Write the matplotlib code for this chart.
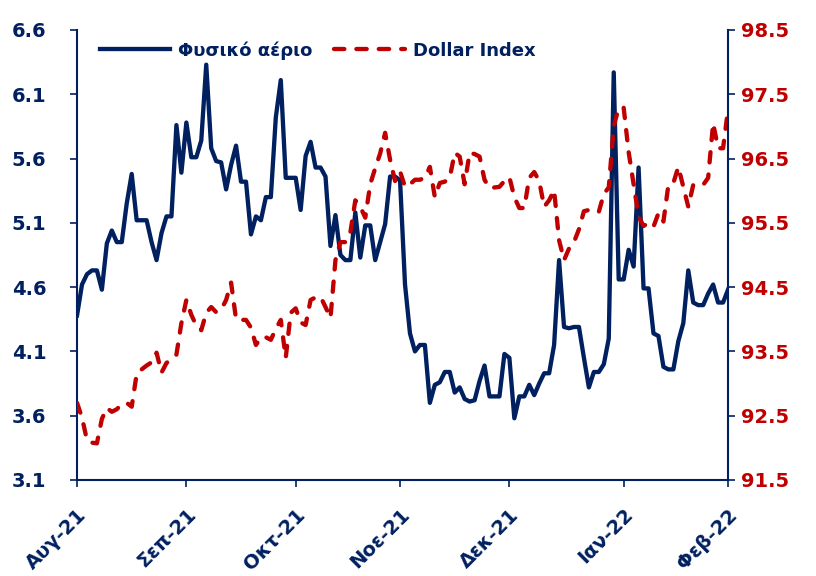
import matplotlib
matplotlib.use("Agg")
import matplotlib.pyplot as plt
import pandas as pd
import numpy as np

# business-day categories
dates = pd.bdate_range("2021-08-02", "2022-02-01")
month_labels = ["Αυγ-21", "Σεπ-21", "Οκτ-21", "Νοε-21", "Δεκ-21", "Ιαν-22", "Φεβ-22"]

gas = [4.38, 4.62, 4.70, 4.73, 4.73, 4.58, 4.94, 5.04, 4.95, 4.95,
       5.25, 5.48, 5.12, 5.12, 5.12, 4.95, 4.81, 5.02, 5.15, 5.15,
       5.86, 5.49, 5.88, 5.61, 5.61, 5.74, 6.33, 5.68, 5.58, 5.57,
       5.36, 5.55, 5.70, 5.42, 5.42, 5.01, 5.15, 5.12, 5.30, 5.30,
       5.92, 6.21, 5.45, 5.45, 5.45, 5.20, 5.62, 5.73, 5.53, 5.53,
       5.46, 4.92, 5.16, 4.85, 4.81, 4.81, 5.18, 4.83, 5.08, 5.08,
       4.81, 4.95, 5.09, 5.46, 5.46, 5.43, 4.62, 4.24, 4.10, 4.15,
       4.15, 3.70, 3.84, 3.86, 3.94, 3.94, 3.78, 3.82, 3.73, 3.71,
       3.72, 3.87, 3.99, 3.75, 3.75, 3.75, 4.08, 4.05, 3.58, 3.75,
       3.75, 3.84, 3.76, 3.85, 3.93, 3.93, 4.15, 4.81, 4.29, 4.28,
       4.29, 4.29, 4.05, 3.82, 3.94, 3.94, 4.00, 4.20, 6.27, 4.66,
       4.66, 4.89, 4.76, 5.53, 4.59, 4.59, 4.24, 4.22, 3.98, 3.96,
       3.96, 4.18, 4.32, 4.73, 4.48, 4.46, 4.46, 4.55, 4.62, 4.48,
       4.48, 4.58]

dollar = [92.70, 92.47, 92.12, 92.08, 92.07, 92.45, 92.62, 92.56, 92.60, 92.68,
          92.70, 92.64, 93.15, 93.22, 93.28, 93.33, 93.48, 93.17, 93.32, 93.38,
          93.45, 93.94, 94.30, 94.07, 93.90, 93.83, 94.10, 94.19, 94.11, 94.15,
          94.30, 94.57, 94.00, 93.99, 93.99, 93.87, 93.60, 93.72, 93.72, 93.68,
          93.85, 93.99, 93.40, 94.10, 94.17, 93.95, 93.91, 94.30, 94.34, 94.35,
          94.19, 94.02, 94.92, 95.20, 95.20, 95.35, 95.85, 95.75, 95.58, 96.10,
          96.35, 96.58, 96.90, 96.48, 96.15, 96.30, 96.06, 96.10, 96.17, 96.17,
          96.20, 96.37, 95.90, 96.12, 96.14, 96.20, 96.59, 96.53, 96.10, 96.59,
          96.57, 96.53, 96.17, 96.04, 96.05, 96.06, 96.15, 96.21, 95.90, 95.73,
          95.73, 96.20, 96.29, 96.15, 95.75, 95.85, 96.01, 95.23, 94.92, 95.10,
          95.20, 95.40, 95.68, 95.70, 95.67, 95.67, 95.95, 96.05, 97.00, 97.29,
          97.29, 96.60, 96.10, 95.60, 95.45, 95.50, 95.44, 95.65, 95.52, 96.09,
          96.12, 96.37, 96.06, 95.75, 96.09, 96.09, 96.09, 96.20, 97.05, 96.66,
          96.66, 97.27]

navy = "#002060"
red = "#C00000"
font = "DejaVu Sans"

fig = plt.figure(figsize=(8.16, 5.76), dpi=100)
ax = fig.add_axes([0.0944, 0.1667, 0.7978, 0.7813])
ax2 = ax.twinx()

x = np.arange(len(dates))
l1, = ax.plot(x, gas, color=navy, lw=3.1, solid_joinstyle="round", label="Φυσικό αέριο", zorder=3)
l2, = ax2.plot(x, dollar, color=red, lw=3.1, dashes=(2.4, 2.8), dash_capstyle="round",
               label="Dollar Index")

ax.set_xlim(0, len(dates) - 1)
ax.set_ylim(3.1, 6.6)
ax2.set_ylim(91.5, 98.5)
ax.set_yticks(np.arange(3.1, 6.61, 0.5))
ax.set_yticklabels([f"{v:.1f}" for v in np.arange(3.1, 6.61, 0.5)])
ax2.set_yticks(np.arange(91.5, 98.51, 1.0))
ax2.set_yticklabels([f"{v:.1f}" for v in np.arange(91.5, 98.51, 1.0)])

# month ticks at first business day of each month
tick_pos = []
seen = set()
for i, d in enumerate(dates):
    key = (d.year, d.month)
    if key not in seen:
        seen.add(key)
        tick_pos.append(i)
ax.set_xticks(tick_pos)
ax.set_xticklabels(month_labels, rotation=45, ha="right", rotation_mode="anchor")

for a in (ax, ax2):
    for s in a.spines.values():
        s.set_color(navy)
        s.set_linewidth(1.5)
    a.spines["top"].set_visible(False)
ax.spines["right"].set_visible(False)
ax2.spines["left"].set_visible(False)
ax2.spines["bottom"].set_visible(False)

ax.tick_params(axis="y", colors=navy, length=5, width=1.2, labelsize=14, pad=17)
ax.tick_params(axis="x", colors=navy, length=5, width=1.2, labelsize=14, pad=13)
ax2.tick_params(axis="y", colors=navy, labelcolor=red, length=5, width=1.2, labelsize=14, pad=4)

for lab in ax.get_yticklabels() + ax.get_xticklabels():
    lab.set_fontfamily(font)
    lab.set_fontweight("bold")
    lab.set_color(navy)
for lab in ax2.get_yticklabels():
    lab.set_fontfamily(font)
    lab.set_fontweight("bold")
    lab.set_color(red)

leg = ax2.legend(handles=[l1, l2], loc="upper left", bbox_to_anchor=(0.035, 0.975), ncol=2,
                 frameon=False, handlelength=3.9, columnspacing=1.2, handletextpad=0.45,
                 borderpad=0, borderaxespad=0,
                 prop={"family": font, "weight": "bold", "size": 13})
for t in leg.get_texts():
    t.set_color(navy)

fig.savefig("out.png", dpi=100)
